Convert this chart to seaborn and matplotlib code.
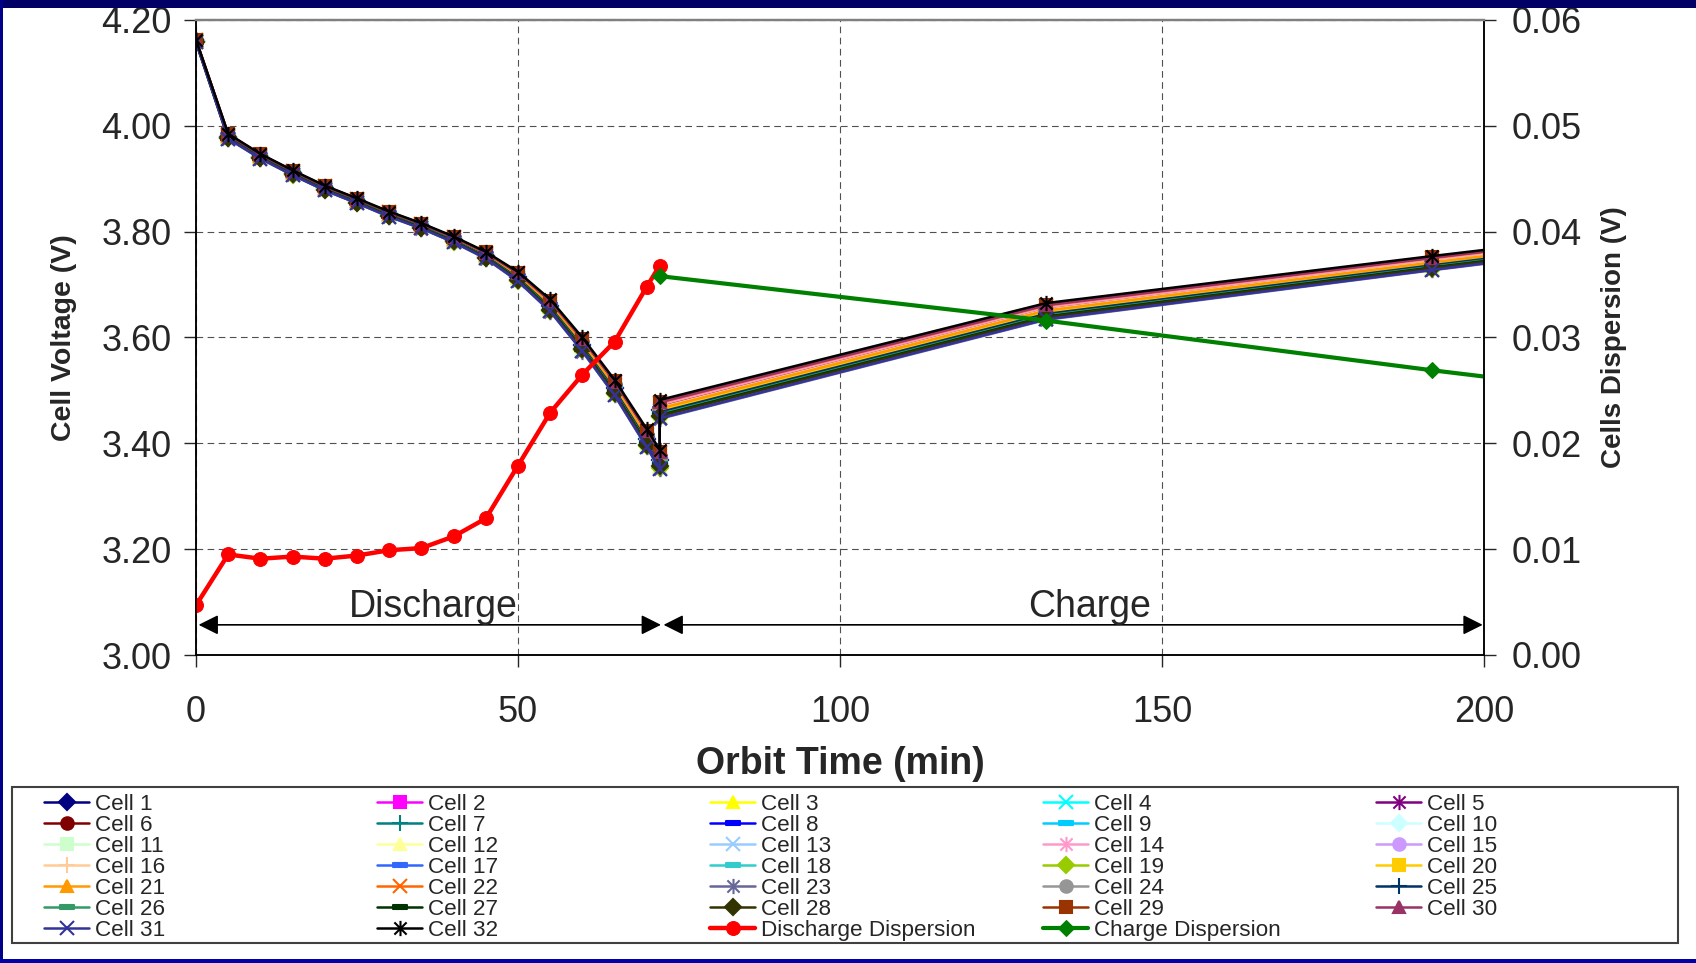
import matplotlib
matplotlib.use("Agg")
import matplotlib.pyplot as plt
from matplotlib.patches import Rectangle
from matplotlib.path import Path
from matplotlib.ticker import FormatStrFormatter
import seaborn as sns

# ---------------------------------------------------------------- data
# Orbit time of every sample (min); 72 min appears twice:
# last discharge reading, then first reading after switching to charge
orbit_time = [0, 5, 10, 15, 20, 25, 30, 35, 40, 45, 50, 55, 60, 65, 70,
              72, 72, 132, 192, 252]

# Highest cell voltage at every sample (V)
upper_voltage = [4.163, 3.985, 3.947, 3.916, 3.887, 3.863, 3.838, 3.816,
                 3.791, 3.762, 3.724, 3.672, 3.600, 3.520, 3.427,
                 3.388, 3.482, 3.665, 3.754, 3.840]

# Cells dispersion (max - min cell voltage, V)
discharge_time = [0, 5, 10, 15, 20, 25, 30, 35, 40, 45, 50, 55, 60, 65, 70, 72]
discharge_disp = [0.0047, 0.0095, 0.0091, 0.0093, 0.0091, 0.0094, 0.0099,
                  0.0101, 0.0112, 0.0129, 0.0179, 0.0229, 0.0265, 0.0296,
                  0.0348, 0.0368]
charge_time = [72, 132, 192, 252]
charge_disp = [0.0358, 0.0316, 0.0269, 0.0225]

# Where each cell sits inside the spread (0 = highest cell, 1 = lowest cell)
cell_position = [0.55, 0.30, 0.85, 0.60, 0.20, 0.35, 0.65, 0.50,
                 0.70, 0.75, 0.80, 0.90, 0.95, 0.25, 0.45, 0.40,
                 0.50, 0.60, 0.92, 0.55, 0.45, 0.15, 1.00, 0.70,
                 0.65, 0.75, 0.80, 0.85, 0.10, 0.12, 0.97, 0.00]

cell_names = [f"Cell {i}" for i in range(1, 33)]

cell_colors = ["#000080", "#FF00FF", "#FFFF00", "#00FFFF", "#800080",
               "#800000", "#008080", "#0000FF", "#00CCFF", "#CCFFFF",
               "#CCFFCC", "#FFFF99", "#99CCFF", "#FF99CC", "#CC99FF",
               "#FFCC99", "#3366FF", "#33CCCC", "#99CC00", "#FFCC00",
               "#FF9900", "#FF6600", "#666699", "#969696", "#003366",
               "#339966", "#003300", "#333300", "#993300", "#993366",
               "#333399", "#000000"]

x_ticks = [0, 50, 100, 150, 200]
volt_ticks = [3.0, 3.2, 3.4, 3.6, 3.8, 4.0, 4.2]
disp_ticks = [0.0, 0.01, 0.02, 0.03, 0.04, 0.05, 0.06]

# ---------------------------------------------------------------- markers
star = Path([(-1, -1), (1, 1), (-1, 1), (1, -1), (0, -1.25), (0, 1.25)],
            [Path.MOVETO, Path.LINETO, Path.MOVETO, Path.LINETO,
             Path.MOVETO, Path.LINETO])
dash = Path([(-1, -0.35), (1, -0.35), (1, 0.35), (-1, 0.35), (-1, -0.35)],
            [Path.MOVETO, Path.LINETO, Path.LINETO, Path.LINETO, Path.CLOSEPOLY])
marker_cycle = ["D", "s", "^", "x", star, "o", "+", dash, dash]
marker_size = {"D": 8, "s": 9, "^": 9, "x": 10, "o": 9, "+": 11}

# ---------------------------------------------------------------- style
sns.set_style("white")
plt.rcParams["font.family"] = ["Liberation Sans", "DejaVu Sans"]

W, H = 1696, 963
fig = plt.figure(figsize=(W / 100, H / 100), dpi=100)
fig.patch.set_facecolor("white")
ax = fig.add_axes([196 / W, 1 - 655 / H, (1484 - 196) / W, (655 - 20) / H])
ax2 = ax.twinx()

# ---------------------------------------------------------------- cells
spread = discharge_disp + charge_disp
for i, name in enumerate(cell_names):
    volts = [v - cell_position[i] * s for v, s in zip(upper_voltage, spread)]
    mk = marker_cycle[i % len(marker_cycle)]
    ms = marker_size.get(mk, 9) if isinstance(mk, str) else (11 if mk is star else 10)
    col = cell_colors[i]
    sns.lineplot(x=orbit_time, y=volts, ax=ax, estimator=None, sort=False,
                 color=col, linewidth=1.8, marker=mk, markersize=ms,
                 markerfacecolor=col, markeredgecolor=col, markeredgewidth=1.5,
                 label=name, legend=False)

# ---------------------------------------------------------------- dispersion
sns.lineplot(x=discharge_time, y=discharge_disp, ax=ax2, estimator=None,
             sort=False, color="#FF0000", linewidth=3.2, marker="o",
             markersize=10, markerfacecolor="#FF0000",
             markeredgecolor="#FF0000", label="Discharge Dispersion",
             legend=False)
sns.lineplot(x=charge_time, y=charge_disp, ax=ax2, estimator=None,
             sort=False, color="#008000", linewidth=3.0, marker="D",
             markersize=8, markerfacecolor="#008000",
             markeredgecolor="#008000", label="Charge Dispersion",
             legend=False)

# ---------------------------------------------------------------- axes
ax.set_xlim(0, 200)
ax.set_ylim(3.0, 4.2)
ax2.set_ylim(0, 0.06)
ax.set_xticks(x_ticks)
ax.set_yticks(volt_ticks)
ax2.set_yticks(disp_ticks)
ax.yaxis.set_major_formatter(FormatStrFormatter("%.2f"))
ax2.yaxis.set_major_formatter(FormatStrFormatter("%.2f"))

ax.grid(True, color="#505050", linestyle=(0, (6, 4)), linewidth=0.8)
for a in (ax, ax2):
    for side in ("left", "right", "bottom"):
        a.spines[side].set_color("black")
        a.spines[side].set_linewidth(1.1)
    a.spines["top"].set_color("#808080")
    a.spines["top"].set_linewidth(1.6)

ax.tick_params(axis="y", direction="out", length=8.6, width=1.0,
               labelsize=26, pad=9, left=True)
ax.tick_params(axis="x", direction="out", length=8.6, width=1.0,
               labelsize=26, pad=20, bottom=True)
ax2.tick_params(axis="y", direction="out", length=8.6, width=1.0,
                labelsize=26, pad=11, right=True)

ax.set_xlabel("Orbit Time (min)", fontsize=27, fontweight="bold", va="center")
ax.xaxis.set_label_coords(0.5, -109 / 635)
ax.set_ylabel("Cell Voltage (V)", fontsize=20.5, fontweight="bold", va="center")
ax.yaxis.set_label_coords(-132 / 1288, 0.5)
ax2.set_ylabel("Cells Dispersion (V)", fontsize=20, fontweight="bold",
               va="center", rotation=90)
ax2.yaxis.set_label_coords(1 + 130 / 1288, 0.5)

# ---------------------------------------------------------------- phases
arrow = dict(arrowstyle="<|-|>,head_length=1.2,head_width=0.6", color="black",
             lw=1.2, shrinkA=0, shrinkB=0, mutation_scale=10)
ax.annotate("", xy=(72.2, 3.057), xytext=(0.4, 3.057), arrowprops=arrow,
            annotation_clip=False)
ax.annotate("", xy=(199.8, 3.057), xytext=(72.6, 3.057), arrowprops=arrow,
            annotation_clip=False)
ax.text(36.8, 3.072, "Discharge", ha="center", va="baseline", fontsize=27)
ax.text(138.8, 3.072, "Charge", ha="center", va="baseline", fontsize=27)

# ---------------------------------------------------------------- legend
# Entries run row by row across five equally wide columns
h1, l1 = ax.get_legend_handles_labels()
h2, l2 = ax2.get_legend_handles_labels()
handles, labels = h1 + h2, l1 + l2
ncol = 5
col_left = [44, 377, 710, 1043, 1376]
for c in range(ncol):
    idx = list(range(c, len(handles), ncol))
    fig.legend([handles[k] for k in idx], [labels[k] for k in idx],
               loc="upper left", bbox_to_anchor=(col_left[c] / W, 1 - 794 / H),
               ncol=1, fontsize=16.2, frameon=False, borderpad=0,
               borderaxespad=0, labelspacing=0.0, handlelength=2.0,
               handletextpad=0.25)

fig.patches.append(Rectangle((12 / W, 1 - 943 / H), 1666 / W, 156 / H,
                             transform=fig.transFigure, facecolor="none",
                             edgecolor="#404040", linewidth=1.5, zorder=5))

# ---------------------------------------------------------------- frame
fig.patches.append(Rectangle((0, 1 - 8 / H), 1, 8 / H, transform=fig.transFigure,
                             facecolor="#000066", edgecolor="none", zorder=10))
fig.patches.append(Rectangle((0, 0), 2.5 / W, 1, transform=fig.transFigure,
                             facecolor="#000088", edgecolor="none", zorder=10))
fig.patches.append(Rectangle((0, 0), 1, 4 / H, transform=fig.transFigure,
                             facecolor="#0000AA", edgecolor="none", zorder=10))

fig.savefig("out.png", dpi=100, facecolor="white")
